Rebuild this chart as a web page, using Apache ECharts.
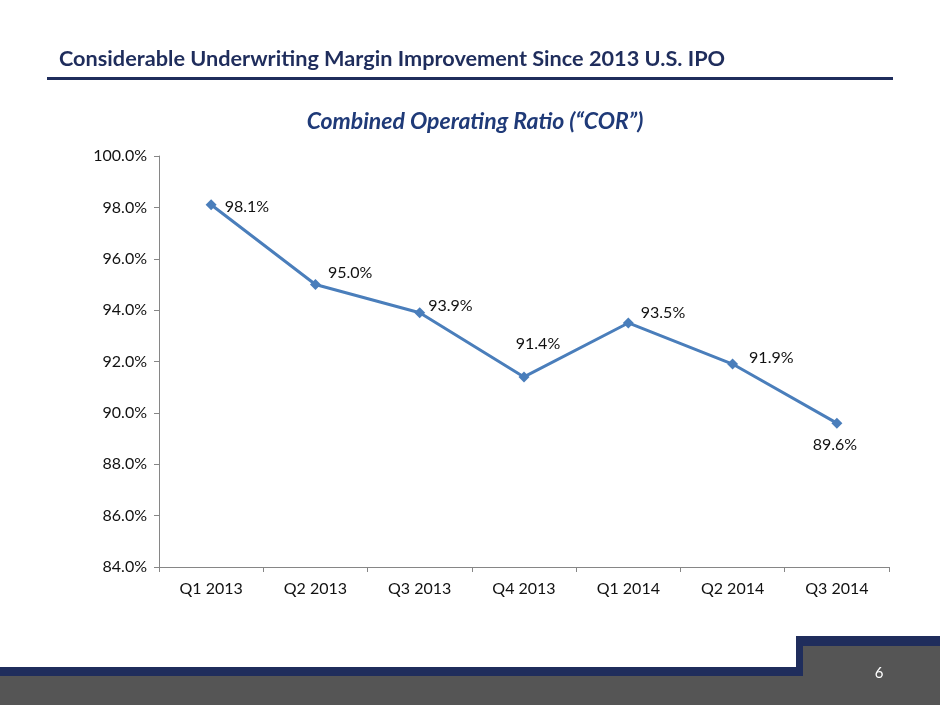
<!DOCTYPE html>
<html>
<head>
<meta charset="utf-8">
<title>Combined Operating Ratio</title>
<script src="https://cdn.jsdelivr.net/npm/echarts@6/dist/echarts.min.js"></script>
<style>
  html, body { margin: 0; padding: 0; background: #fff; }
  #main { width: 940px; height: 705px; }
</style>
</head>
<body>
<div id="main"></div>
<script>
// chart data
var quarters = ['Q1 2013', 'Q2 2013', 'Q3 2013', 'Q4 2013', 'Q1 2014', 'Q2 2014', 'Q3 2014'];
var corValues = [98.1, 95.0, 93.9, 91.4, 93.5, 91.9, 89.6];
var yTicks = [84, 86, 88, 90, 92, 94, 96, 98, 100];

var navy = '#1f2d5c';
var footerGray = '#555555';
var fontName = 'Lato, "Open Sans", sans-serif';

// where each value label sits next to its point
var labelSpots = [
  { position: 'right', distance: 8, offset: [0, 2] },
  { position: 'right', distance: 7, offset: [0, -12] },
  { position: 'right', distance: 3, offset: [0, -7] },
  { position: 'top', distance: 20, offset: [14, 0] },
  { position: 'right', distance: 7, offset: [0, -10] },
  { position: 'right', distance: 11, offset: [0, -6] },
  { position: 'bottom', distance: 8, offset: [-2, 0] }
];

var chart = echarts.init(document.getElementById('main'), null, { renderer: 'canvas' });

var option = {
  backgroundColor: '#ffffff',
  animation: false,
  textStyle: { fontFamily: fontName },
  title: [
    {
      text: 'Considerable Underwriting Margin Improvement Since 2013 U.S. IPO',
      left: 59,
      top: 48,
      padding: 0,
      textStyle: { color: navy, fontSize: 21.7, fontWeight: 'bold', fontFamily: fontName }
    },
    {
      text: 'Combined Operating Ratio (\u201CCOR\u201D)',
      left: 470,
      textAlign: 'center',
      top: 105,
      textStyle: { color: '#1f3a78', fontSize: 23, fontWeight: 'bold', fontStyle: 'italic', fontFamily: fontName }
    }
  ],
  grid: { left: 159, right: 51, top: 156, bottom: 138, containLabel: false },
  xAxis: {
    type: 'category',
    data: quarters,
    boundaryGap: true,
    axisLine: { lineStyle: { color: '#868686', width: 1 } },
    axisTick: { show: true, length: 5, lineStyle: { color: '#868686' } },
    axisLabel: { color: '#111111', fontSize: 16, margin: 14, fontFamily: fontName }
  },
  yAxis: {
    type: 'value',
    min: yTicks[0],
    max: yTicks[yTicks.length - 1],
    interval: 2,
    axisLine: { show: true, lineStyle: { color: '#868686', width: 1 } },
    axisTick: { show: true, length: 5, lineStyle: { color: '#868686' } },
    splitLine: { show: false },
    axisLabel: {
      color: '#111111',
      fontSize: 16,
      margin: 12,
      fontFamily: fontName,
      formatter: function (v) { return v.toFixed(1) + '%'; }
    }
  },
  series: [
    {
      type: 'line',
      data: corValues.map(function (v, i) {
        return { value: v, label: labelSpots[i] };
      }),
      symbol: 'diamond',
      symbolSize: 11,
      lineStyle: { color: '#4a7ebb', width: 3 },
      itemStyle: { color: '#4a7ebb' },
      label: {
        show: true,
        color: '#111111',
        fontSize: 16,
        fontFamily: fontName,
        formatter: function (p) { return p.value.toFixed(1) + '%'; }
      }
    }
  ],
  graphic: [
    // rule under the heading
    { type: 'rect', shape: { x: 47, y: 77, width: 846, height: 3 }, style: { fill: navy } },
    // footer band
    { type: 'rect', shape: { x: 0, y: 676, width: 940, height: 29 }, style: { fill: footerGray } },
    { type: 'rect', shape: { x: 803, y: 646, width: 137, height: 30 }, style: { fill: footerGray } },
    {
      type: 'polygon',
      shape: {
        points: [[0, 667], [796, 667], [796, 636], [940, 636], [940, 646], [803, 646], [803, 676], [0, 676]]
      },
      style: { fill: navy }
    },
    {
      type: 'text',
      x: 879,
      y: 673,
      style: {
        text: '6',
        fill: '#ffffff',
        font: '15px ' + fontName,
        textAlign: 'center',
        textVerticalAlign: 'middle'
      }
    }
  ]
};

chart.setOption(option);
</script>
</body>
</html>
